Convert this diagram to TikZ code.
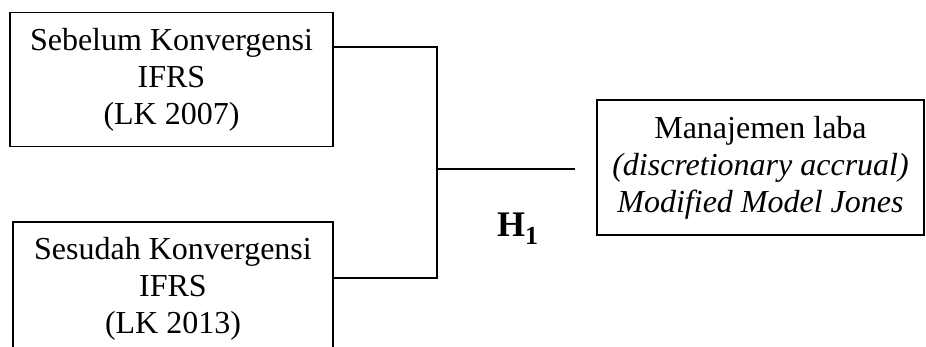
\documentclass[tikz,border=0pt]{standalone}
\usepackage{fontspec}
\setmainfont{Liberation Serif}
\begin{document}
\begin{tikzpicture}[x=1pt,y=-1pt,
  box/.style={draw=black,line width=1.4pt,inner sep=0pt,align=center,
    font=\fontsize{32}{37}\selectfont},
  conn/.style={draw=black,line width=1.8pt}]
\clip (0,0) rectangle (926,347);
\useasboundingbox (0,0) rectangle (926,347);
\node[box,minimum width=323pt,minimum height=134pt] (b1) at (171.5,79.6)
  {Sebelum Konvergensi\\IFRS\\(LK 2007)};
\node[box,minimum width=320pt,minimum height=134pt] (b2) at (173,289)
  {Sesudah Konvergensi\\IFRS\\(LK 2013)};
\node[box,minimum width=327pt,minimum height=135pt] (b3) at (760.5,167.5)
  {Manajemen laba\\\textit{(discretionary accrual)}\\\textit{Modified Model Jones}};
\coordinate (j1) at (437,47);
\coordinate (j2) at (437,278);
\coordinate (jm) at (437,169);
\coordinate (e3) at (575,169);
\draw[conn] (b1.east |- j1) -- (j1) -- (j2) -- (b2.east |- j2);
\draw[conn] (jm) -- (e3);
\node[font=\fontsize{36}{40}\selectfont\bfseries,inner sep=0pt,anchor=base west] (h1) at (497,236.7)
  {H\raisebox{-8pt}{\fontsize{26}{28}\selectfont 1}};
\end{tikzpicture}
\end{document}
